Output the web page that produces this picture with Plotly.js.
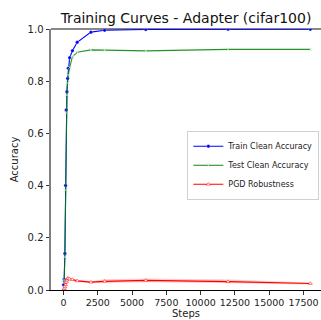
<!DOCTYPE html>
<html>
<head>
<meta charset="utf-8">
<script src="https://cdn.plot.ly/plotly-3.0.1.min.js"></script>
<style>html,body{margin:0;padding:0;background:#fff;}#chart{width:321px;height:320px;}</style>
</head>
<body>
<div id="chart"></div>
<script>
// Data
const steps = [0, 50, 100, 150, 200, 250, 300, 350, 450, 650, 1000, 2000, 3000, 6000, 12000, 18000];
const trainClean = [0.02, 0.04, 0.14, 0.40, 0.69, 0.76, 0.81, 0.85, 0.89, 0.917, 0.949, 0.988, 0.995, 0.998, 0.999, 0.999];
const testClean = [0.027, 0.038, 0.126, 0.383, 0.678, 0.747, 0.793, 0.824, 0.852, 0.894, 0.911, 0.920, 0.919, 0.916, 0.922, 0.922];
const pgd = [0.0, 0.005, 0.012, 0.02, 0.03, 0.038, 0.045, 0.044, 0.042, 0.040, 0.035, 0.030, 0.033, 0.037, 0.032, 0.025];
const pgdLow = [0.0, 0.002, 0.008, 0.015, 0.025, 0.033, 0.040, 0.039, 0.037, 0.035, 0.031, 0.026, 0.027, 0.030, 0.026, 0.021];
const pgdHigh = [0.0, 0.008, 0.016, 0.025, 0.035, 0.043, 0.050, 0.049, 0.047, 0.045, 0.039, 0.034, 0.041, 0.044, 0.040, 0.029];
const xTicks = [0, 2500, 5000, 7500, 10000, 12500, 15000, 17500];
const yTicks = [0, 0.2, 0.4, 0.6, 0.8, 1.0];
const yTickText = ['0.0', '0.2', '0.4', '0.6', '0.8', '1.0'];

const FONT = 'DejaVu Sans, sans-serif';

const traces = [
  {x: steps, y: trainClean, name: 'Train Clean Accuracy', mode: 'lines+markers',
   line: {color: '#0000ff', width: 1.1}, marker: {symbol: 'circle', size: 3.5, color: '#0000ff', line: {color: '#ffffff', width: 0.3}}},
  {x: steps, y: testClean, name: 'Test Clean Accuracy', mode: 'lines+markers', opacity: 0.85,
   line: {color: '#008000', width: 1.1}, marker: {symbol: 'x-thin', size: 3.5, color: '#b8e0b8', line: {color: '#b8e0b8', width: 0.8}}},
  {x: steps, y: pgdLow, mode: 'lines', line: {width: 0, color: 'rgba(255,0,0,0)'}, showlegend: false, hoverinfo: 'skip'},
  {x: steps, y: pgdHigh, mode: 'lines', fill: 'tonexty', fillcolor: 'rgba(255,0,0,0.2)', line: {width: 0, color: 'rgba(255,0,0,0)'}, showlegend: false, hoverinfo: 'skip'},
  {x: steps, y: pgd, name: 'PGD Robustness', mode: 'lines+markers',
   line: {color: '#ff0000', width: 1.1}, marker: {symbol: 'triangle-up', size: 3.5, color: '#ffffff', line: {color: '#ff0000', width: 0.5}}}
];

const layout = {
  width: 321, height: 320,
  margin: {l: 51, r: 0, t: 29, b: 30, pad: 0},
  paper_bgcolor: '#ffffff', plot_bgcolor: '#ffffff',
  font: {family: FONT, size: 10, color: '#222222'},
  title: {text: 'Training Curves - Adapter (cifar100)', font: {family: FONT, size: 14, color: '#111111'},
          x: 0.5, xref: 'paper', xanchor: 'center', y: 1 - 18 / 320, yref: 'container', yanchor: 'middle'},
  xaxis: {range: [-911, 18777], tickvals: xTicks, ticktext: xTicks.map(String), ticks: 'outside', ticklen: 3.5, tickwidth: 0.8, tickcolor: '#000',
          showgrid: false, zeroline: false, showline: true, linecolor: '#000000', linewidth: 1.2,
          tickfont: {family: FONT, size: 9.5, color: '#222'},
          title: {text: 'Steps', font: {family: FONT, size: 10, color: '#222'}, standoff: 1}, automargin: false},
  yaxis: {range: [0, 1], tickvals: yTicks, ticktext: yTickText, ticks: 'outside', ticklen: 3.5, tickwidth: 0.8, tickcolor: '#000',
          showgrid: false, zeroline: false, showline: true, linecolor: '#808080', linewidth: 2,
          tickfont: {family: FONT, size: 10, color: '#222'},
          title: {text: 'Accuracy', font: {family: FONT, size: 10, color: '#222'}, standoff: 7}, automargin: false},
  shapes: [{type: 'line', xref: 'paper', yref: 'paper', x0: 0, x1: 1, y0: 1, y1: 1, line: {color: '#606060', width: 1.5}, layer: 'below'}],
  legend: {x: 0.505, y: 0.61, xanchor: 'left', yanchor: 'top', traceorder: 'normal', bgcolor: 'rgba(255,255,255,0.85)', bordercolor: '#d0d0d0', borderwidth: 1,
           font: {family: FONT, size: 8, color: '#222'}, tracegroupgap: 0, itemwidth: 30},
  showlegend: true
};

Plotly.newPlot('chart', traces, layout, {staticPlot: true, displayModeBar: false});
</script>
</body>
</html>
